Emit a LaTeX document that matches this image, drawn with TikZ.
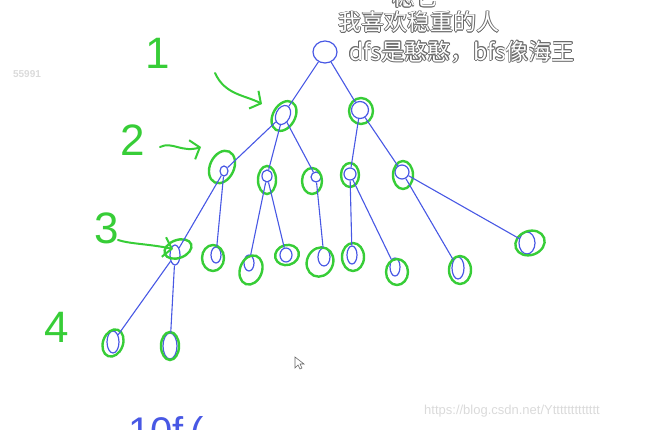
\documentclass[tikz,border=0pt]{standalone}
\usepackage{fontspec}
\setmainfont{Liberation Sans}
\newfontfamily\cjk{Noto Sans CJK SC}
\usetikzlibrary{arrows.meta}
\usetikzlibrary{shapes.geometric}
\definecolor{penblue}{RGB}{72,88,228}
\definecolor{pengreen}{RGB}{55,205,55}
\definecolor{capline}{RGB}{105,105,105}
\definecolor{markgray}{RGB}{218,218,218}
\newcommand\edgeglyph[3]{\makebox[0pt][l]{\hspace*{#1}\raisebox{#2}{\textcolor{capline}{#3}}}}
\newcommand\hollow[1]{\edgeglyph{.6pt}{0pt}{#1}\edgeglyph{-.6pt}{0pt}{#1}\edgeglyph{0pt}{.6pt}{#1}\edgeglyph{0pt}{-.6pt}{#1}\edgeglyph{.45pt}{.45pt}{#1}\edgeglyph{-.45pt}{.45pt}{#1}\edgeglyph{.45pt}{-.45pt}{#1}\edgeglyph{-.45pt}{-.45pt}{#1}\textcolor{white}{#1}}

\begin{document}
\begin{tikzpicture}[x=1pt, y=-1pt,
    vtx/.style={ellipse, draw=penblue, line width=1.2pt, inner sep=0pt},
    ring/.style={ellipse, draw=pengreen, line width=2.4pt, inner sep=0pt},
    edge/.style={draw=penblue, line width=1.1pt},
    hand/.style={draw=pengreen, line width=2pt, line cap=round, -{Straight Barb[length=8pt, width=20pt]}},
    digit/.style={text=pengreen, font=\fontsize{44}{44}\selectfont, inner sep=0pt},
    caption/.style={font=\cjk\fontsize{23}{27}\selectfont, inner sep=0pt}]
      \useasboundingbox (0,0) rectangle (653,430);
      \clip (0,0) rectangle (653,430);

      \node[caption] (c0) at (415,-3) {\hollow{稳它}};
      \node[caption] (c1) at (419,22) {\hollow{我喜欢稳重的人}};
      \node[caption] (c2) at (462,52) {\hollow{dfs是憨憨，bfs像海王}};

      \node[text=markgray, font=\bfseries\fontsize{10}{12}\selectfont, inner sep=0pt] (wm1) at (27,74) {55991};
      \node[text=markgray, font=\fontsize{13}{15}\selectfont, inner sep=0pt] (wm2) at (512,411) {https://blog.csdn.net/Yttttttttttttt};

      \node[vtx, minimum width=24, minimum height=22] (1) at (325,52) {};
      \node[vtx, minimum width=14, minimum height=20, rotate=-25] (2) at (283,115) {};
      \node[vtx, minimum width=17, minimum height=17] (3) at (360,110) {};
      \node[vtx, minimum width=8, minimum height=10] (4) at (224,171) {};
      \node[vtx, minimum width=10, minimum height=12] (5) at (267,176) {};
      \node[vtx, minimum width=10, minimum height=10] (6) at (316,177) {};
      \node[vtx, minimum width=12, minimum height=12] (7) at (350,174) {};
      \node[vtx, minimum width=14, minimum height=14] (8) at (402,172) {};
      \node[vtx, minimum width=10, minimum height=20] (9) at (175,255) {};
      \node[vtx, minimum width=10, minimum height=16] (10) at (216,255) {};
      \node[vtx, minimum width=10, minimum height=16] (11) at (249,263) {};
      \node[vtx, minimum width=12, minimum height=14] (12) at (286,255) {};
      \node[vtx, minimum width=12, minimum height=18] (13) at (324,257) {};
      \node[vtx, minimum width=10, minimum height=18] (14) at (352,255) {};
      \node[vtx, minimum width=10, minimum height=18] (15) at (395,267) {};
      \node[vtx, minimum width=12, minimum height=22] (16) at (458,268) {};
      \node[vtx, minimum width=16, minimum height=22] (17) at (527,243) {};
      \node[vtx, minimum width=12, minimum height=22] (18) at (113,342) {};
      \node[vtx, minimum width=14, minimum height=26] (19) at (170,346) {};

      \node[ring, minimum width=22, minimum height=32, rotate=-30] (g2) at (284,116) {};
      \node[ring, minimum width=24, minimum height=26] (g3) at (361,111) {};
      \node[ring, minimum width=24, minimum height=34, rotate=-25] (g4) at (222,167) {};
      \node[ring, minimum width=18, minimum height=28] (g5) at (267,180) {};
      \node[ring, minimum width=20, minimum height=26] (g6) at (312,181) {};
      \node[ring, minimum width=18, minimum height=24] (g7) at (350,175) {};
      \node[ring, minimum width=20, minimum height=28] (g8) at (403,175) {};
      \node[ring, minimum width=28, minimum height=18, rotate=20] (g9) at (178,249) {};
      \node[ring, minimum width=22, minimum height=26] (g10) at (213,258) {};
      \node[ring, minimum width=22, minimum height=30, rotate=-20] (g11) at (251,270) {};
      \node[ring, minimum width=24, minimum height=20, rotate=15] (g12) at (287,255) {};
      \node[ring, minimum width=26, minimum height=30, rotate=-25] (g13) at (320,262) {};
      \node[ring, minimum width=22, minimum height=28] (g14) at (353,257) {};
      \node[ring, minimum width=22, minimum height=26] (g15) at (397,272) {};
      \node[ring, minimum width=22, minimum height=28] (g16) at (460,270) {};
      \node[ring, minimum width=30, minimum height=24, rotate=20] (g17) at (530,243) {};
      \node[ring, minimum width=20, minimum height=28, rotate=-20] (g18) at (113,343) {};
      \node[ring, minimum width=18, minimum height=28] (g19) at (170,346) {};

      \draw[edge] (1) -- (2) (1) -- (3);
      \draw[edge] (2) -- (4) (2) -- (5) (2) -- (6);
      \draw[edge] (3) -- (7) (3) -- (8);
      \draw[edge] (4) -- (9) (4) -- (10);
      \draw[edge] (5) -- (11) (5) -- (12);
      \draw[edge] (6) -- (13);
      \draw[edge] (7) -- (14) (7) -- (15);
      \draw[edge] (8) -- (16) (8) -- (17);
      \draw[edge] (9) -- (18) (9) -- (19);

      \node[digit] (n1) at (158,53) {1};
      \node[digit] (n2) at (133,140) {2};
      \node[digit] (n3) at (107,228) {3};
      \node[digit] (n4) at (57,327) {4};

      \coordinate (a1s) at (215,73);
      \coordinate (a1e) at (262,104);
      \coordinate (a2s) at (160,147);
      \coordinate (a2e) at (201,147);
      \coordinate (a3s) at (118,240);
      \coordinate (a3e) at (173,249);
      \draw[hand] (a1s) .. controls (225,95) and (245,95) .. (a1e);
      \draw[hand] (a2s) .. controls (172,141) and (182,153) .. (a2e);
      \draw[hand] (a3s) .. controls (130,244) and (150,244) .. (a3e);

      \node[text=penblue, font=\fontsize{40}{40}\selectfont, anchor=north west, inner sep=0pt] (scr) at (128,416) {10f\,(};
      \draw[black!60, fill=white, line width=.6pt] (295,357) -- (295,368) -- (298,365) -- (300,369) -- (302,368) -- (300,364) -- (304,364) -- cycle;
\end{tikzpicture}
\end{document}
